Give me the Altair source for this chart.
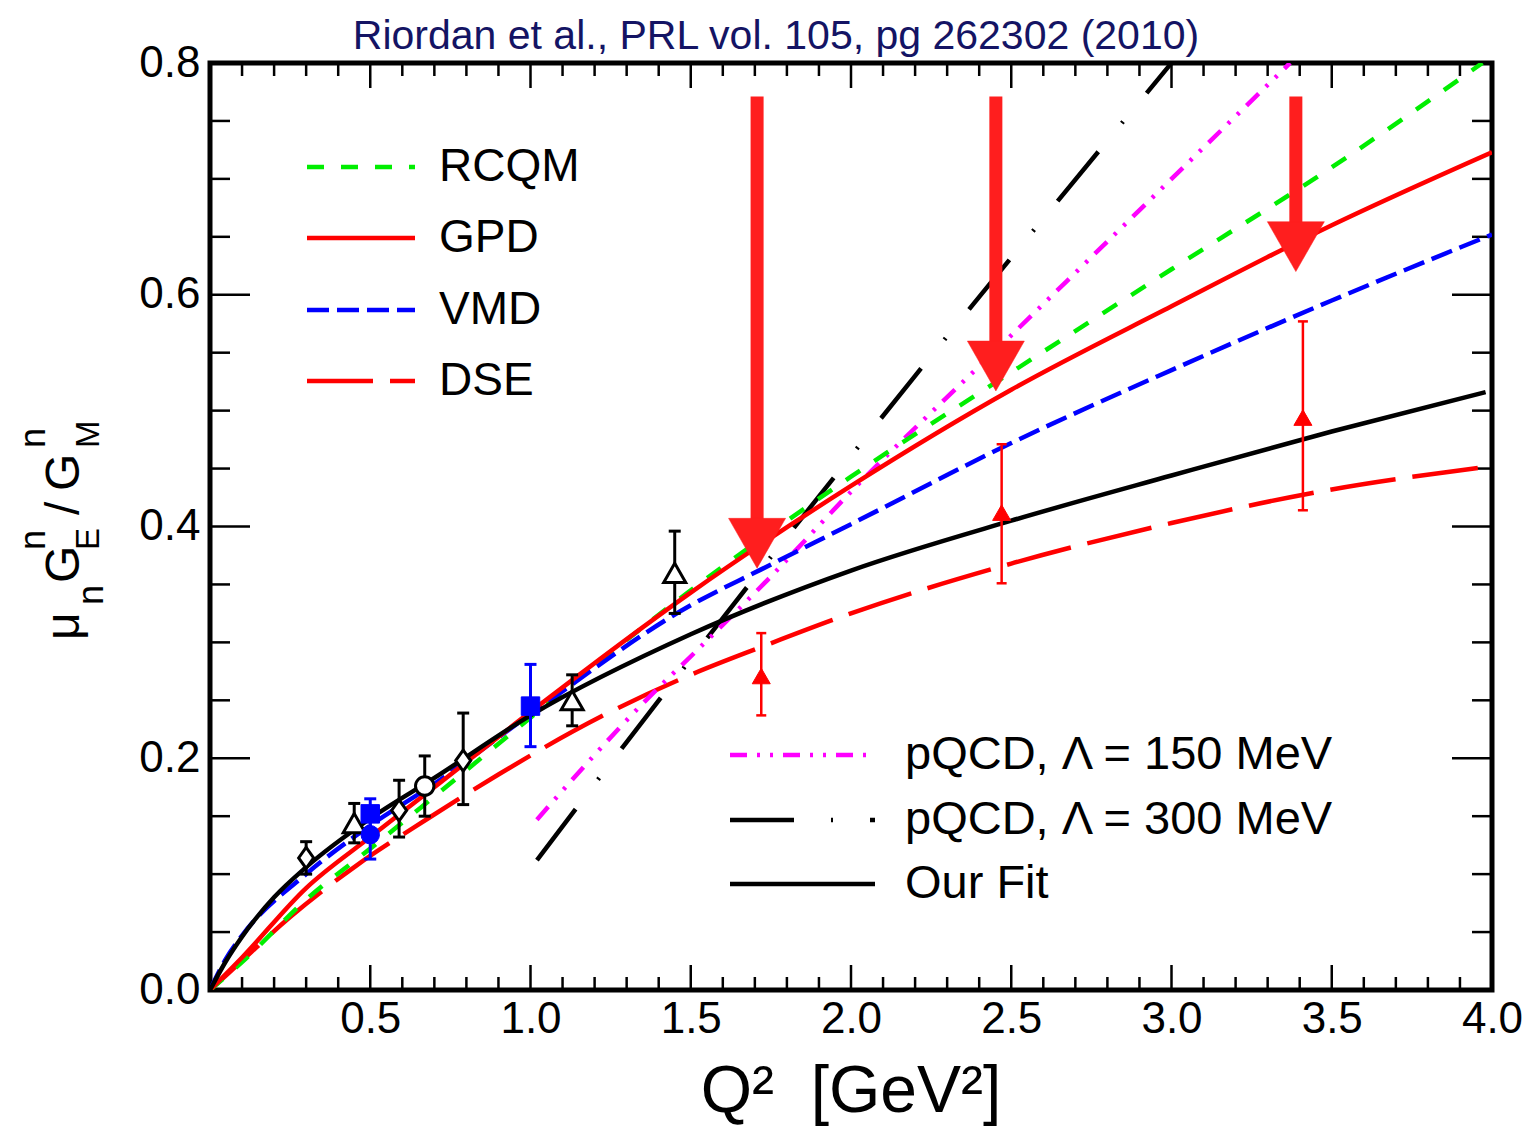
import altair as alt
import pandas as pd

# ---------------- theory curves: Q^2 [GeV^2] vs mu_n G_E^n / G_M^n ----------------
rcqm_q2 = [0, 0.1, 0.3, 0.5, 0.7, 1.0, 1.5, 2.0, 2.5, 3.0, 3.5, 3.97]
rcqm_v = [0, 0.024, 0.078, 0.122, 0.167, 0.235, 0.345, 0.443, 0.533, 0.622, 0.71, 0.80]

gpd_q2 = [0, 0.1, 0.3, 0.5, 0.7, 1.0, 1.5, 2.0, 2.5, 3.0, 3.5, 4.0]
gpd_v = [0, 0.028, 0.088, 0.132, 0.175, 0.24, 0.343, 0.435, 0.518, 0.59, 0.66, 0.723]

vmd_q2 = [0, 0.05, 0.1, 0.3, 0.5, 0.7, 1.0, 1.5, 1.72, 2.0, 2.5, 3.0, 3.5, 4.0]
vmd_v = [0, 0.027, 0.047, 0.1, 0.142, 0.178, 0.238, 0.332, 0.363, 0.402, 0.472, 0.535, 0.595, 0.652]

dse_q2 = [0, 0.06, 0.25, 0.46, 0.68, 0.9, 1.22, 1.5, 1.72, 2.0, 2.5, 3.0, 3.5, 4.0]
dse_v = [0, 0.015, 0.063, 0.108, 0.148, 0.186, 0.236, 0.272, 0.296, 0.325, 0.368, 0.403, 0.432, 0.452]

pq150_q2 = [1.02, 1.36, 1.53, 1.74, 2.0, 2.5, 3.0, 3.37]
pq150_v = [0.147, 0.25, 0.296, 0.354, 0.43, 0.565, 0.70, 0.80]

pq300_q2 = [1.02, 1.3, 1.6, 1.9, 2.2, 2.5, 2.8, 3.0]
pq300_v = [0.112, 0.214, 0.321, 0.426, 0.53, 0.632, 0.733, 0.80]

fit_q2 = [0, 0.05, 0.1, 0.2, 0.3, 0.5, 0.7, 1.0, 1.5, 2.0, 2.5, 3.0, 3.5, 3.98]
fit_v = [0, 0.025, 0.046, 0.08, 0.106, 0.148, 0.183, 0.237, 0.307, 0.362, 0.405, 0.444, 0.482, 0.516]

# ---------------- data points ----------------
bdia_q2 = [0.30, 0.59, 0.79]
bdia_v = [0.114, 0.155, 0.198]
bdia_lo = [0.100, 0.132, 0.160]
bdia_hi = [0.128, 0.181, 0.239]

btri_q2 = [0.45, 1.13, 1.45]
btri_v = [0.144, 0.250, 0.360]
btri_lo = [0.127, 0.228, 0.325]
btri_hi = [0.161, 0.272, 0.396]

bcir_q2 = [0.67]
bcir_v = [0.176]
bcir_lo = [0.150]
bcir_hi = [0.202]

bsq_q2 = [0.50, 1.00]
bsq_v = [0.152, 0.245]
bsq_lo = [0.139, 0.210]
bsq_hi = [0.165, 0.281]

bluec_q2 = [0.50]
bluec_v = [0.134]
bluec_lo = [0.113]
bluec_hi = [0.155]

rtri_q2 = [1.72, 2.47, 3.41]
rtri_v = [0.271, 0.412, 0.494]
rtri_lo = [0.237, 0.351, 0.414]
rtri_hi = [0.308, 0.471, 0.577]

# big red arrows
arrow_q2 = [1.707, 2.452, 3.388]
arrow_tip = [0.364, 0.517, 0.620]
arrow_top = [0.771, 0.771, 0.771]

# axis ticks / labels
x_labels = [0.5, 1.0, 1.5, 2.0, 2.5, 3.0, 3.5, 4.0]
y_labels = [0.0, 0.2, 0.4, 0.6, 0.8]
xt_major = [0.5, 1.0, 1.5, 2.0, 2.5, 3.0, 3.5]
xt_minor = [round(0.1 * i, 1) for i in range(1, 40) if i % 5]
yt_major = [0.2, 0.4, 0.6]
yt_minor = [round(0.05 * i, 2) for i in range(1, 16) if i % 4]

legend1 = ["RCQM", "GPD", "VMD", "DSE"]
legend2 = ["pQCD, Λ = 150 MeV", "pQCD, Λ = 300 MeV", "Our Fit"]

# ---------------- styling ----------------
W, H = 1282, 927
FONT = "Liberation Sans"
RED = "#ff0000"
ARROW = "#ff1e1e"
GREEN = "#00ee00"
BLUE = "#0000ff"
MAG = "#ff00ff"

xscale = alt.Scale(domain=[0, 4], nice=False, zero=False)
yscale = alt.Scale(domain=[0, 0.8], nice=False, zero=False)

xaxis = alt.Axis(values=x_labels, format=".1f", labelFont=FONT, labelFontSize=44,
                 labelColor="black", ticks=False, domain=False, grid=False,
                 labelPadding=7, title=None, labelFlush=False, labelOverlap=False)
yaxis = alt.Axis(values=y_labels, format=".1f", labelFont=FONT, labelFontSize=44,
                 labelColor="black", ticks=False, domain=False, grid=False,
                 labelPadding=10, title=None, labelFlush=False, labelOverlap=False)


def X(field="q2"):
    return alt.X(f"{field}:Q", scale=xscale, axis=xaxis)


def Y(field="v"):
    return alt.Y(f"{field}:Q", scale=yscale, axis=yaxis)


def curve(q2, v, color, dash=None, width=4.5):
    df = pd.DataFrame({"q2": q2, "v": v})
    kw = dict(color=color, strokeWidth=width, interpolate="monotone", clip=True)
    if dash:
        kw["strokeDash"] = dash
    return alt.Chart(df).mark_line(**kw).encode(x=X(), y=Y())


def pts(q2, v, lo, hi):
    return pd.DataFrame({"q2": q2, "v": v, "lo": lo, "hi": hi})


def errbars(df, color, width, cap):
    bar = alt.Chart(df).mark_rule(color=color, strokeWidth=width).encode(
        x=X(), y=Y("lo"), y2="hi:Q")
    c1 = alt.Chart(df).mark_point(shape="stroke", size=cap * cap, stroke=color,
                                  strokeWidth=width, opacity=1).encode(x=X(), y=Y("lo"))
    c2 = alt.Chart(df).mark_point(shape="stroke", size=cap * cap, stroke=color,
                                  strokeWidth=width, opacity=1).encode(x=X(), y=Y("hi"))
    return [bar, c1, c2]


def marker(df, shape, size, stroke, fill, sw=3):
    return alt.Chart(df).mark_point(shape=shape, size=size, stroke=stroke, fill=fill,
                                    filled=True, strokeWidth=sw, opacity=1).encode(x=X(), y=Y())


one = pd.DataFrame({"a": [0]})


def txt(s, x, y, size, align="left", baseline="alphabetic", angle=0, color="black", font=FONT):
    kw = dict(font=font, fontSize=size, align=align, baseline=baseline, color=color)
    if angle:
        kw["angle"] = angle
    return alt.Chart(one).mark_text(**kw).encode(
        x=alt.value(x), y=alt.value(y), text=alt.value(s))


def leg_line(x1, x2, y, color, dash=None, width=4.5):
    kw = dict(color=color, strokeWidth=width)
    if dash:
        kw["strokeDash"] = dash
    return alt.Chart(one).mark_rule(**kw).encode(
        x=alt.value(x1), x2=alt.value(x2), y=alt.value(y))


layers = []

# axis carrier (invisible)
layers.append(alt.Chart(pd.DataFrame({"q2": [0, 4], "v": [0, 0.8]})).mark_point(opacity=0).encode(
    x=X(), y=Y()))


# inside ticks
def xticks(vals, length):
    df = pd.DataFrame({"t": vals})
    b = alt.Chart(df).mark_rule(color="black", strokeWidth=2.5).encode(
        x=X("t"), y=alt.value(H), y2=alt.value(H - length))
    t = alt.Chart(df).mark_rule(color="black", strokeWidth=2.5).encode(
        x=X("t"), y=alt.value(0), y2=alt.value(length))
    return [b, t]


def yticks(vals, length):
    df = pd.DataFrame({"t": vals})
    l = alt.Chart(df).mark_rule(color="black", strokeWidth=2.5).encode(
        y=Y("t"), x=alt.value(0), x2=alt.value(length))
    r = alt.Chart(df).mark_rule(color="black", strokeWidth=2.5).encode(
        y=Y("t"), x=alt.value(W), x2=alt.value(W - length))
    return [l, r]


layers += xticks(xt_major, 25) + xticks(xt_minor, 13) + yticks(yt_major, 40) + yticks(yt_minor, 20)

# curves
DASH_RCQM = [17, 17]
DASH_VMD = [22, 8]
DASH_DSE = [66, 17]
DASH_150 = [17, 10, 3, 10, 3, 10]
DASH_300 = [64, 37, 2, 37]

layers.append(curve(dse_q2, dse_v, RED, DASH_DSE))
layers.append(curve(pq300_q2, pq300_v, "black", DASH_300))
layers.append(curve(pq150_q2, pq150_v, MAG, DASH_150))
layers.append(curve(rcqm_q2, rcqm_v, GREEN, DASH_RCQM))
layers.append(curve(vmd_q2, vmd_v, BLUE, DASH_VMD))
layers.append(curve(gpd_q2, gpd_v, RED))
layers.append(curve(fit_q2, fit_v, "black"))

# data points
d_bdia = pts(bdia_q2, bdia_v, bdia_lo, bdia_hi)
d_btri = pts(btri_q2, btri_v, btri_lo, btri_hi)
d_bcir = pts(bcir_q2, bcir_v, bcir_lo, bcir_hi)
d_bsq = pts(bsq_q2, bsq_v, bsq_lo, bsq_hi)
d_bluec = pts(bluec_q2, bluec_v, bluec_lo, bluec_hi)
d_rtri = pts(rtri_q2, rtri_v, rtri_lo, rtri_hi)

layers += errbars(d_bdia, "black", 3, 12)
layers += errbars(d_btri, "black", 3, 12)
layers += errbars(d_bcir, "black", 3, 12)
layers += errbars(d_bsq, BLUE, 3, 12)
layers += errbars(d_bluec, BLUE, 3, 12)
layers += errbars(d_rtri, RED, 2.5, 10)

layers.append(marker(d_bdia, "M0,-1.4L1,0L0,1.4L-1,0Z", 225, "black", "white"))
layers.append(marker(d_btri, "triangle-up", 484, "black", "white"))
layers.append(marker(d_bcir, "circle", 340, "black", "white"))
layers.append(marker(d_bsq, "square", 340, BLUE, BLUE, 1))
layers.append(marker(d_bluec, "circle", 340, BLUE, BLUE, 1))
layers.append(marker(d_rtri, "triangle-up", 324, RED, RED, 1))

# arrows
d_arr = pd.DataFrame({"q2": arrow_q2, "tip": arrow_tip, "top": arrow_top})
layers.append(alt.Chart(d_arr).mark_rule(color=ARROW, strokeWidth=13, y2Offset=-40).encode(
    x=X(), y=Y("top"), y2="tip:Q"))
layers.append(alt.Chart(d_arr).mark_point(shape="M-1,-1.75L1,-1.75L0,0Z", size=3249, filled=True,
                                          fill=ARROW, stroke=ARROW, strokeWidth=0.5,
                                          opacity=1).encode(x=X(), y=Y("tip")))

# legend (top-left)
leg1_y = [104, 175, 247, 318]
leg1_sty = [(GREEN, DASH_RCQM), (RED, None), (BLUE, DASH_VMD), (RED, DASH_DSE)]
for lab, yy, (col, dsh) in zip(legend1, leg1_y, leg1_sty):
    layers.append(leg_line(97, 205, yy, col, dsh))
    layers.append(txt(lab, 229, yy, 46, baseline="middle"))

# legend (bottom-right)
leg2_y = [692, 757, 821]
leg2_sty = [(MAG, DASH_150), ("black", DASH_300), ("black", None)]
for lab, yy, (col, dsh) in zip(legend2, leg2_y, leg2_sty):
    layers.append(leg_line(520, 665, yy, col, dsh))
    layers.append(txt(lab, 695, yy, 47, baseline="middle"))

# title and axis titles
layers.append(txt("Riordan et al., PRL vol. 105, pg 262302 (2010)", 566, -14, 41,
                  align="center", color="#141464"))
layers.append(txt("Q²\u00a0\u00a0[GeV²]", 641, 1049, 66, align="center"))

# y title pieces (rotated)
ytitle = [
    ("μ", -131, 577, 48),
    ("n", -107, 542, 36),
    ("G", -131, 520, 48),
    ("E", -111, 487, 33),
    ("n", -165, 487, 36),
    ("/", -131, 452, 48),
    ("G", -131, 428, 48),
    ("M", -111, 385, 33),
    ("n", -165, 385, 36),
]
for s, xx, yy, fs in ytitle:
    layers.append(txt(s, xx, yy, fs, angle=270))

chart = alt.layer(*layers).properties(
    width=W, height=H,
    padding={"left": 210, "top": 63, "right": 36, "bottom": 139},
    autosize=alt.AutoSizeParams(type="none"),
    background="white",
).configure_view(stroke="black", strokeWidth=5)

chart.save("out.html", embed_options={"renderer": "svg", "actions": False})
